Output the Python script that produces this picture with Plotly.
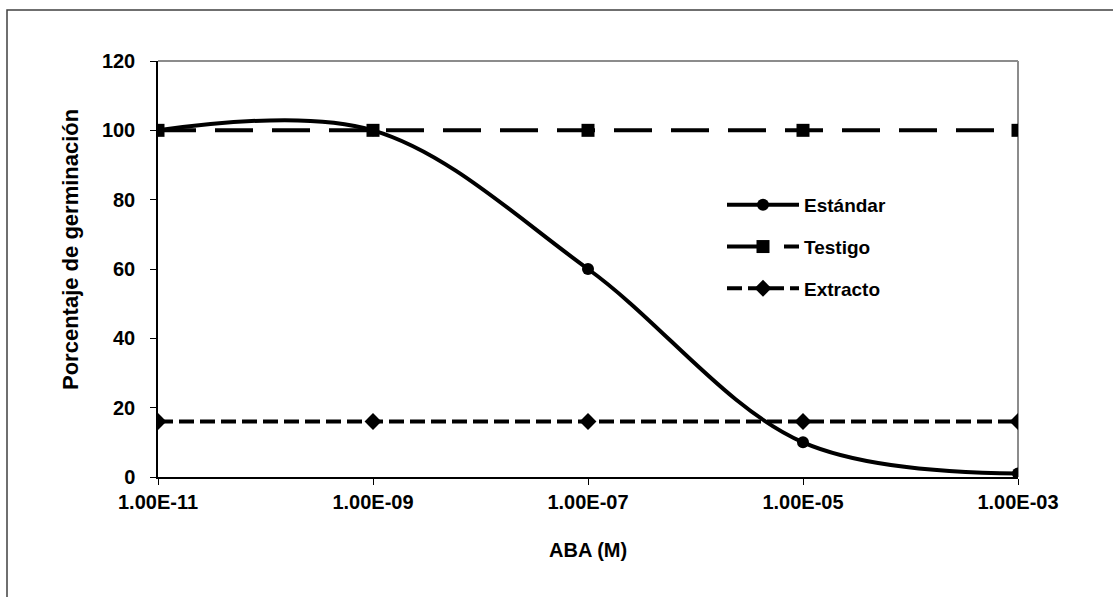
import plotly.graph_objects as go

# ABA concentrations (M) and germination percentages
aba = [1e-11, 1e-9, 1e-7, 1e-5, 1e-3]
estandar = [100, 100, 60, 10, 1]
testigo = [100, 100, 100, 100, 100]
extracto = [16, 16, 16, 16, 16]

x_tickvals = [1e-11, 1e-9, 1e-7, 1e-5, 1e-3]
x_ticktext = ["1.00E-11", "1.00E-09", "1.00E-07", "1.00E-05", "1.00E-03"]
y_tickvals = [0, 20, 40, 60, 80, 100, 120]

FONT = "Liberation Sans, Arial, sans-serif"
BOLD20 = dict(family=FONT, size=20, color="black", weight="bold")

fig = go.Figure()

fig.add_trace(go.Scatter(
    x=aba, y=estandar, name="Estándar", mode="lines+markers",
    line=dict(color="black", width=4, shape="spline", smoothing=1.0),
    marker=dict(symbol="circle", size=12, color="black"),
    legendgroup="a",
))
fig.add_trace(go.Scatter(
    x=aba, y=testigo, name="Testigo", mode="lines+markers",
    line=dict(color="black", width=4, dash="38px,19px"),
    marker=dict(symbol="square", size=13, color="black"),
    legendgroup="b",
))
fig.add_trace(go.Scatter(
    x=aba, y=extracto, name="Extracto", mode="lines+markers",
    line=dict(color="black", width=4, dash="15px,6px"),
    marker=dict(symbol="diamond", size=13, color="black"),
    legendgroup="c",
))

L, T, R, B = 158, 61, 1018, 477
W, H = 1113, 597
pw, ph = R - L, B - T

fig.update_layout(
    width=W, height=H,
    margin=dict(l=L, r=W - R, t=T, b=H - B),
    paper_bgcolor="white", plot_bgcolor="white",
    font=BOLD20,
    showlegend=True,
    legend=dict(
        x=(722 - L) / pw, y=1 - (186 - T) / ph, xanchor="left", yanchor="top",
        bgcolor="rgba(0,0,0,0)", itemwidth=72, tracegroupgap=14,
        font=dict(family=FONT, size=19, color="black", weight="bold"),
    ),
    xaxis=dict(
        type="log", range=[-11, -3],
        tickvals=x_tickvals, ticktext=x_ticktext,
        tickfont=BOLD20,
        ticks="outside", ticklen=6, tickwidth=1, tickcolor="black",
        showgrid=False, zeroline=False,
        showline=True, linecolor="black", linewidth=1.5,
        mirror=False,
    ),
    yaxis=dict(
        range=[0, 120], tickvals=y_tickvals,
        tickfont=BOLD20,
        ticks="outside", ticklen=6, tickwidth=1, tickcolor="black",
        showgrid=False, zeroline=False,
        showline=True, linecolor="black", linewidth=1.5,
        ticklabelstandoff=11,
    ),
    annotations=[
        dict(text="ABA (M)", xref="paper", yref="paper",
             x=(588 - L) / pw, y=-(550 - B) / ph, showarrow=False,
             font=BOLD20, xanchor="center", yanchor="middle"),
        dict(text="Porcentaje de germinación", xref="paper", yref="paper",
             x=-(L - 70) / pw, y=1 - (250 - T) / ph, showarrow=False, textangle=-90,
             font=dict(family=FONT, size=22, color="black", weight="bold"),
             xanchor="center", yanchor="middle"),
    ],
    shapes=[
        # gray plot-area border on top and right
        dict(type="line", xref="paper", yref="paper", x0=0, x1=1, y0=1, y1=1,
             line=dict(color="#8c8c8c", width=2), layer="below"),
        dict(type="line", xref="paper", yref="paper", x0=1, x1=1, y0=0, y1=1,
             line=dict(color="#8c8c8c", width=2), layer="below"),
        # outer chart frame
        dict(type="rect", xref="paper", yref="paper",
             x0=-(L - 7) / pw, x1=2, y0=-2, y1=1 + (T - 10) / ph,
             line=dict(color="#404040", width=1.5), fillcolor="rgba(0,0,0,0)"),
    ],
)

fig.write_html("out.html")
